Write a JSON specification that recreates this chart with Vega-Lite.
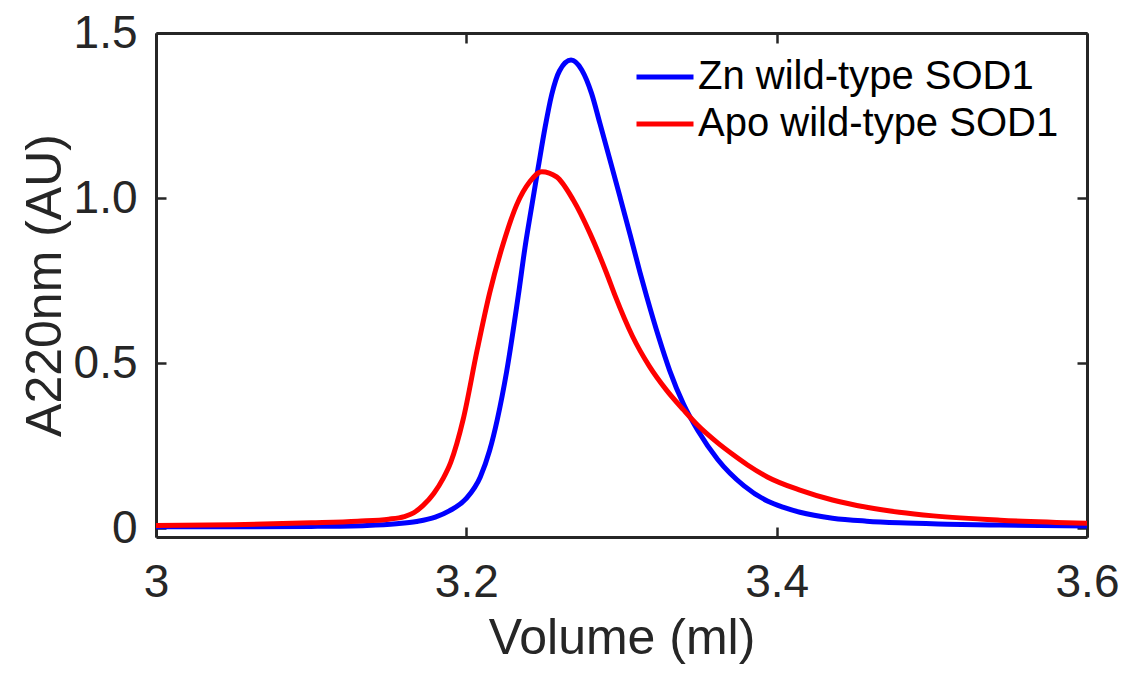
{
  "$schema": "https://vega.github.io/schema/vega-lite/v6.json",
  "width": 931,
  "height": 504,
  "autosize": {"type": "none"},
  "padding": {"left": 156, "top": 33, "right": 42, "bottom": 136},
  "background": "white",
  "config": {
    "view": {"stroke": null},
    "font": "Liberation Sans",
    "axis": {
      "domainColor": "#262626",
      "domainWidth": 3,
      "tickColor": "#262626",
      "tickWidth": 2.5,
      "tickSize": -10,
      "labelColor": "#262626",
      "titleColor": "#262626",
      "labelFont": "Liberation Sans",
      "titleFont": "Liberation Sans",
      "labelFontSize": 46,
      "titleFontSize": 50,
      "titleFontWeight": "normal",
      "grid": false
    }
  },
  "data": {
    "values": [
      {"s": "Zn wild-type SOD1", "v": 3.000, "a": 0.004},
      {"s": "Zn wild-type SOD1", "v": 3.060, "a": 0.004},
      {"s": "Zn wild-type SOD1", "v": 3.100, "a": 0.005},
      {"s": "Zn wild-type SOD1", "v": 3.136, "a": 0.008},
      {"s": "Zn wild-type SOD1", "v": 3.155, "a": 0.013},
      {"s": "Zn wild-type SOD1", "v": 3.168, "a": 0.020},
      {"s": "Zn wild-type SOD1", "v": 3.180, "a": 0.033},
      {"s": "Zn wild-type SOD1", "v": 3.189, "a": 0.052},
      {"s": "Zn wild-type SOD1", "v": 3.200, "a": 0.090},
      {"s": "Zn wild-type SOD1", "v": 3.209, "a": 0.155},
      {"s": "Zn wild-type SOD1", "v": 3.215, "a": 0.235},
      {"s": "Zn wild-type SOD1", "v": 3.220, "a": 0.330},
      {"s": "Zn wild-type SOD1", "v": 3.226, "a": 0.475},
      {"s": "Zn wild-type SOD1", "v": 3.2335, "a": 0.705},
      {"s": "Zn wild-type SOD1", "v": 3.2378, "a": 0.850},
      {"s": "Zn wild-type SOD1", "v": 3.2421, "a": 0.974},
      {"s": "Zn wild-type SOD1", "v": 3.2464, "a": 1.095},
      {"s": "Zn wild-type SOD1", "v": 3.2507, "a": 1.213},
      {"s": "Zn wild-type SOD1", "v": 3.255, "a": 1.313},
      {"s": "Zn wild-type SOD1", "v": 3.260, "a": 1.385},
      {"s": "Zn wild-type SOD1", "v": 3.2675, "a": 1.418},
      {"s": "Zn wild-type SOD1", "v": 3.2744, "a": 1.388},
      {"s": "Zn wild-type SOD1", "v": 3.2807, "a": 1.317},
      {"s": "Zn wild-type SOD1", "v": 3.2861, "a": 1.226},
      {"s": "Zn wild-type SOD1", "v": 3.2926, "a": 1.115},
      {"s": "Zn wild-type SOD1", "v": 3.2990, "a": 1.004},
      {"s": "Zn wild-type SOD1", "v": 3.3055, "a": 0.890},
      {"s": "Zn wild-type SOD1", "v": 3.3119, "a": 0.775},
      {"s": "Zn wild-type SOD1", "v": 3.3162, "a": 0.702},
      {"s": "Zn wild-type SOD1", "v": 3.324, "a": 0.578},
      {"s": "Zn wild-type SOD1", "v": 3.331, "a": 0.478},
      {"s": "Zn wild-type SOD1", "v": 3.340, "a": 0.375},
      {"s": "Zn wild-type SOD1", "v": 3.349, "a": 0.297},
      {"s": "Zn wild-type SOD1", "v": 3.362, "a": 0.208},
      {"s": "Zn wild-type SOD1", "v": 3.379, "a": 0.128},
      {"s": "Zn wild-type SOD1", "v": 3.394, "a": 0.082},
      {"s": "Zn wild-type SOD1", "v": 3.405, "a": 0.062},
      {"s": "Zn wild-type SOD1", "v": 3.415, "a": 0.048},
      {"s": "Zn wild-type SOD1", "v": 3.436, "a": 0.030},
      {"s": "Zn wild-type SOD1", "v": 3.458, "a": 0.021},
      {"s": "Zn wild-type SOD1", "v": 3.479, "a": 0.016},
      {"s": "Zn wild-type SOD1", "v": 3.510, "a": 0.012},
      {"s": "Zn wild-type SOD1", "v": 3.544, "a": 0.009},
      {"s": "Zn wild-type SOD1", "v": 3.600, "a": 0.006},
      {"s": "Apo wild-type SOD1", "v": 3.000, "a": 0.008},
      {"s": "Apo wild-type SOD1", "v": 3.050, "a": 0.010},
      {"s": "Apo wild-type SOD1", "v": 3.100, "a": 0.016},
      {"s": "Apo wild-type SOD1", "v": 3.130, "a": 0.021},
      {"s": "Apo wild-type SOD1", "v": 3.150, "a": 0.027},
      {"s": "Apo wild-type SOD1", "v": 3.160, "a": 0.035},
      {"s": "Apo wild-type SOD1", "v": 3.166, "a": 0.046},
      {"s": "Apo wild-type SOD1", "v": 3.172, "a": 0.068},
      {"s": "Apo wild-type SOD1", "v": 3.179, "a": 0.105},
      {"s": "Apo wild-type SOD1", "v": 3.185, "a": 0.150},
      {"s": "Apo wild-type SOD1", "v": 3.190, "a": 0.200},
      {"s": "Apo wild-type SOD1", "v": 3.198, "a": 0.330},
      {"s": "Apo wild-type SOD1", "v": 3.207, "a": 0.540},
      {"s": "Apo wild-type SOD1", "v": 3.215, "a": 0.712},
      {"s": "Apo wild-type SOD1", "v": 3.2238, "a": 0.862},
      {"s": "Apo wild-type SOD1", "v": 3.2325, "a": 0.980},
      {"s": "Apo wild-type SOD1", "v": 3.2410, "a": 1.050},
      {"s": "Apo wild-type SOD1", "v": 3.2486, "a": 1.080},
      {"s": "Apo wild-type SOD1", "v": 3.2582, "a": 1.064},
      {"s": "Apo wild-type SOD1", "v": 3.2689, "a": 0.994},
      {"s": "Apo wild-type SOD1", "v": 3.2797, "a": 0.893},
      {"s": "Apo wild-type SOD1", "v": 3.2904, "a": 0.772},
      {"s": "Apo wild-type SOD1", "v": 3.2958, "a": 0.705},
      {"s": "Apo wild-type SOD1", "v": 3.307, "a": 0.582},
      {"s": "Apo wild-type SOD1", "v": 3.318, "a": 0.490},
      {"s": "Apo wild-type SOD1", "v": 3.329, "a": 0.418},
      {"s": "Apo wild-type SOD1", "v": 3.340, "a": 0.358},
      {"s": "Apo wild-type SOD1", "v": 3.349, "a": 0.312},
      {"s": "Apo wild-type SOD1", "v": 3.362, "a": 0.258},
      {"s": "Apo wild-type SOD1", "v": 3.372, "a": 0.222},
      {"s": "Apo wild-type SOD1", "v": 3.381, "a": 0.192},
      {"s": "Apo wild-type SOD1", "v": 3.394, "a": 0.155},
      {"s": "Apo wild-type SOD1", "v": 3.415, "a": 0.115},
      {"s": "Apo wild-type SOD1", "v": 3.436, "a": 0.085},
      {"s": "Apo wild-type SOD1", "v": 3.458, "a": 0.063},
      {"s": "Apo wild-type SOD1", "v": 3.479, "a": 0.048},
      {"s": "Apo wild-type SOD1", "v": 3.501, "a": 0.037},
      {"s": "Apo wild-type SOD1", "v": 3.544, "a": 0.024},
      {"s": "Apo wild-type SOD1", "v": 3.600, "a": 0.015}
    ]
  },
  "layer": [
    {
      "transform": [{"filter": "datum.s == 'Zn wild-type SOD1'"}],
      "mark": {"type": "line", "strokeWidth": 5, "interpolate": "monotone"},
      "encoding": {
        "x": {
          "field": "v", "type": "quantitative",
          "scale": {"domain": [3, 3.6], "nice": false, "zero": false},
          "axis": {"orient": "bottom", "title": "Volume (ml)", "values": [3, 3.2, 3.4, 3.6],
                   "labelExpr": "toString(datum.value)", "labelPadding": 33, "titlePadding": 8,
                   "labelFlush": false}
        },
        "y": {
          "field": "a", "type": "quantitative",
          "scale": {"domain": [-0.027, 1.5], "nice": false, "zero": false},
          "axis": {"orient": "left", "title": "A220nm (AU)", "values": [0, 0.5, 1, 1.5],
                   "labelExpr": "datum.value == 0 ? '0' : format(datum.value, '.1f')",
                   "labelPadding": 29, "titlePadding": 3, "labelFlush": false}
        },
        "color": {
          "field": "s", "type": "nominal",
          "scale": {"domain": ["Zn wild-type SOD1", "Apo wild-type SOD1"], "range": ["#0000ff", "#ff0000"]},
          "legend": {"orient": "none", "legendX": 478, "legendY": 24, "title": null, "padding": 0,
                     "symbolType": "stroke", "symbolSize": 3249, "symbolStrokeWidth": 5,
                     "clipHeight": 40, "rowPadding": 7, "labelFontSize": 40, "labelColor": "#000000",
                     "labelFont": "Liberation Sans", "labelOffset": 2, "labelLimit": 600}
        }
      }
    },
    {
      "transform": [{"filter": "datum.s == 'Apo wild-type SOD1'"}],
      "mark": {"type": "line", "strokeWidth": 5, "interpolate": "monotone"},
      "encoding": {
        "x": {
          "field": "v", "type": "quantitative",
          "scale": {"domain": [3, 3.6], "nice": false, "zero": false},
          "axis": {"orient": "top", "title": null, "values": [3, 3.2, 3.4, 3.6], "labels": false}
        },
        "y": {
          "field": "a", "type": "quantitative",
          "scale": {"domain": [-0.027, 1.5], "nice": false, "zero": false},
          "axis": {"orient": "right", "title": null, "values": [0, 0.5, 1, 1.5], "labels": false}
        },
        "color": {
          "field": "s", "type": "nominal",
          "scale": {"domain": ["Zn wild-type SOD1", "Apo wild-type SOD1"], "range": ["#0000ff", "#ff0000"]},
          "legend": {"orient": "none", "legendX": 478, "legendY": 24, "title": null, "padding": 0,
                     "symbolType": "stroke", "symbolSize": 3249, "symbolStrokeWidth": 5,
                     "clipHeight": 40, "rowPadding": 7, "labelFontSize": 40, "labelColor": "#000000",
                     "labelFont": "Liberation Sans", "labelOffset": 2, "labelLimit": 600}
        }
      }
    }
  ],
  "resolve": {"axis": {"x": "independent", "y": "independent"}}
}
